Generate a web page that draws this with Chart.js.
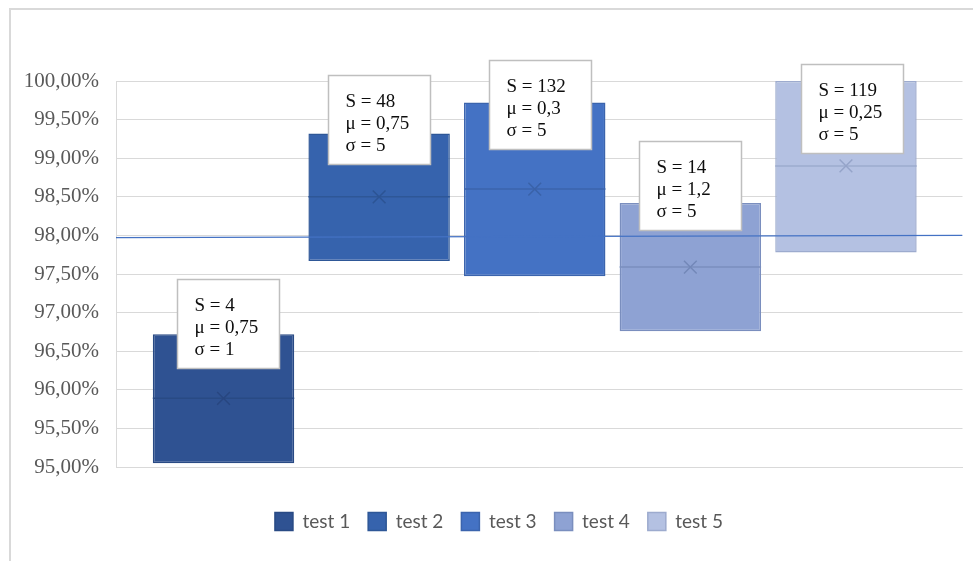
<!DOCTYPE html>
<html>
<head>
<meta charset="utf-8">
<script src="https://cdn.jsdelivr.net/npm/chart.js@4/dist/chart.umd.min.js"></script>
<style>
  html, body { margin: 0; padding: 0; background: #fff; }
  #wrap { position: relative; width: 973px; height: 561px; }
  #frame { position: absolute; left: 9px; top: 8px; right: 0; bottom: 0;
           border-left: 2px solid #d9d9d9; border-top: 2px solid #d9d9d9; }
  canvas { position: absolute; left: 0; top: 0; }
</style>
</head>
<body>
<div id="wrap">
  <div id="frame"></div>
  <canvas id="c" width="973" height="561"></canvas>
</div>
<script>
// Test series: box range (low..high), median and mean, all in percent
const categories = ['test 1', 'test 2', 'test 3', 'test 4', 'test 5'];
const boxLow     = [95.05, 97.67, 97.47, 96.76, 97.78];
const boxHigh    = [96.72, 99.32, 99.72, 98.42, 100.00];
const medians    = [95.89, 98.50, 98.60, 97.59, 98.90];
const means      = [95.89, 98.50, 98.60, 97.59, 98.90];

// Statistics shown in each call-out
const statS     = [4, 48, 132, 14, 119];
const statMu    = [0.75, 0.75, 0.3, 1.2, 0.25];
const statSigma = [1, 5, 5, 5, 5];

// Target line across the plot (start and end value)
const targetLine = [97.97, 98.00];

// Y axis range and tick step
const yMin = 95, yMax = 100, yStep = 0.5;

// Styling
const SERIF = '"Liberation Serif", "Times New Roman", "DejaVu Serif", serif';
const SANS = 'Lato, "Open Sans", sans-serif';
const fills   = ['#2f5292', '#3663ad', '#4472c4', '#8ea2d3', '#b4c1e2'];
const borders = ['#294a84', '#2e5797', '#3b64ad', '#7a8ebe', '#9dabce'];
const markers = ['#284680', '#2c5494', '#3a62a8', '#7388b8', '#95a4c9'];

// Call-out placement: horizontal offset from box centre (px), top edge (axis value)
const calloutLayout = {
  dx:  [-47, -51, -46, -51, -45],
  top: [97.435, 100.078, 100.272, 99.223, 100.220],
  width: 102, height: 89
};

const fmtComma = v => String(v).replace('.', ',');

const barDatasets = categories.map((name, i) => ({
  type: 'bar',
  label: name,
  data: [{ x: i, y: [boxLow[i], boxHigh[i]] }],
  backgroundColor: fills[i],
  borderColor: borders[i],
  borderWidth: 1.5,
  borderSkipped: false,
  grouped: false,
  categoryPercentage: 1,
  barPercentage: 0.909,
  order: 5
}));

const meanDataset = {
  type: 'line',
  label: 'mean',
  data: means.map((m, i) => ({ x: i, y: m })),
  showLine: false,
  pointStyle: 'crossRot',
  pointRadius: 9,
  pointHoverRadius: 9,
  pointBorderWidth: 1.5,
  pointBorderColor: markers,
  pointBackgroundColor: markers,
  order: 1
};

const targetDataset = {
  type: 'line',
  label: 'target',
  xAxisID: 'xLine',
  data: [{ x: 0, y: targetLine[0] }, { x: 1, y: targetLine[1] }],
  borderColor: '#4472c4',
  borderWidth: 1.2,
  pointRadius: 0,
  order: 2
};

// Median bar inside each box, drawn right after the box itself
const medianPlugin = {
  id: 'medianLines',
  afterDatasetDraw(chart, args) {
    const meta = args.meta;
    if (meta.type !== 'bar') return;
    const i = args.index;
    const el = meta.data[0];
    if (!el) return;
    const { ctx } = chart;
    const y = chart.scales.y.getPixelForValue(medians[i]);
    const half = el.width / 2;
    ctx.save();
    ctx.strokeStyle = borders[i];
    ctx.lineWidth = 1.5;
    ctx.beginPath();
    ctx.moveTo(el.x - half, y);
    ctx.lineTo(el.x + half, y);
    ctx.stroke();
    ctx.restore();
  }
};

// White call-out boxes with the S / μ / σ statistics
const calloutPlugin = {
  id: 'callouts',
  afterDatasetsDraw(chart) {
    const { ctx } = chart;
    const xs = chart.scales.x, ys = chart.scales.y;
    ctx.save();
    categories.forEach((_, i) => {
      const left = Math.round(xs.getPixelForValue(i) + calloutLayout.dx[i]) + 0.5;
      const top = Math.round(ys.getPixelForValue(calloutLayout.top[i])) + 0.5;
      ctx.fillStyle = '#ffffff';
      ctx.fillRect(left, top, calloutLayout.width, calloutLayout.height);
      ctx.strokeStyle = '#bfbfbf';
      ctx.lineWidth = 1.5;
      ctx.strokeRect(left, top, calloutLayout.width, calloutLayout.height);
      ctx.fillStyle = '#0d0d0d';
      ctx.font = '19px ' + SERIF;
      ctx.textAlign = 'left';
      ctx.textBaseline = 'alphabetic';
      const lines = ['S = ' + statS[i], 'μ = ' + fmtComma(statMu[i]), 'σ = ' + statSigma[i]];
      lines.forEach((t, k) => ctx.fillText(t, left + 17, top + 31 + k * 22));
    });
    ctx.restore();
  }
};

// Legend sits a little right of the canvas centre
const legendShift = {
  id: 'legendShift',
  afterLayout(chart) {
    const lg = chart.legend;
    if (lg) { lg.left += 11; lg.right += 11; }
  }
};

const chart = new Chart(document.getElementById('c'), {
  data: {
    datasets: [...barDatasets, meanDataset, targetDataset]
  },
  options: {
    responsive: false,
    animation: false,
    events: [],
    layout: { padding: { left: 10, right: 7, top: 81, bottom: 20 } },
    scales: {
      x: {
        type: 'linear',
        min: -0.691, max: 4.749,
        offset: false,
        grid: { display: false },
        border: { display: true, color: '#d9d9d9', width: 1 },
        ticks: { display: false, stepSize: 1, includeBounds: false },
        afterFit(scale) { scale.height = 27; }
      },
      xLine: {
        type: 'linear',
        display: false,
        offset: false,
        min: 0, max: 1
      },
      y: {
        min: yMin, max: yMax,
        grid: { color: '#d9d9d9', lineWidth: 1, drawTicks: false },
        border: { display: true, color: '#d9d9d9', width: 1 },
        ticks: {
          stepSize: yStep,
          padding: 17,
          color: '#595959',
          font: { family: SERIF, size: 21 },
          callback: v => v.toFixed(2).replace('.', ',') + '%'
        },
        afterFit(scale) { scale.width = 106; }
      }
    },
    plugins: {
      legend: {
        position: 'bottom',
        labels: {
          filter: item => item.datasetIndex < categories.length,
          boxWidth: 18,
          boxHeight: 18,
          padding: 18,
          color: '#595959',
          font: { family: SANS, size: 19 }
        }
      },
      tooltip: { enabled: false }
    }
  },
  plugins: [medianPlugin, calloutPlugin, legendShift]
});
</script>
</body>
</html>
